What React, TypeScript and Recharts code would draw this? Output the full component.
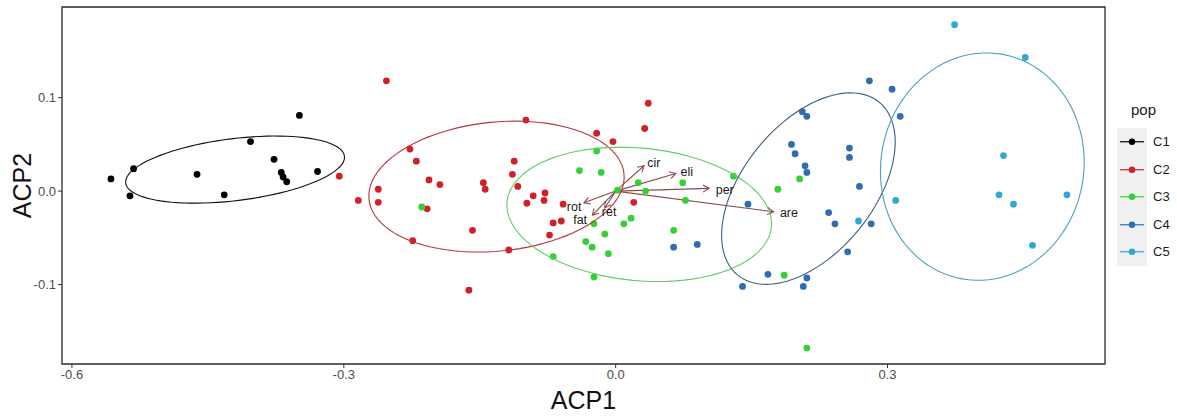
import {
  Label,
  ReferenceArea,
  ReferenceLine,
  Scatter,
  ScatterChart,
  XAxis,
  YAxis,
} from "recharts";

// axes
const X_DOMAIN: [number, number] = [-0.611, 0.54];
const Y_DOMAIN: [number, number] = [-0.185, 0.197];
const X_TICKS = [-0.6, -0.3, 0, 0.3];
const Y_TICKS = [-0.1, 0, 0.1];

// individuals, per population (ACP1 / ACP2 scores)
const C1_X = [-0.557, -0.532, -0.536, -0.462, -0.432, -0.403, -0.377, -0.369, -0.367, -0.363, -0.349, -0.329];
const C1_Y = [0.013, 0.024, -0.005, 0.018, -0.004, 0.053, 0.034, 0.02, 0.015, 0.01, 0.081, 0.021];

const C2_X = [-0.253, -0.305, -0.284, -0.262, -0.262, -0.227, -0.22, -0.206, -0.194, -0.208, -0.224, -0.158, -0.146, -0.144, -0.162, -0.118, -0.112, -0.114, -0.108, -0.099, -0.091, -0.098, -0.078, -0.079, -0.058, -0.069, -0.06, -0.073, -0.021, -0.003, 0.036, 0.032, 0.02];
const C2_Y = [0.118, 0.016, -0.01, 0.002, -0.012, 0.045, 0.032, 0.012, 0.007, -0.019, -0.053, -0.042, 0.009, 0.002, -0.106, -0.063, 0.032, 0.018, 0.005, 0.076, -0.005, -0.013, -0.002, -0.01, -0.014, -0.034, -0.032, -0.047, 0.062, 0.053, 0.094, 0.067, -0.012];

const C3_X = [-0.021, -0.04, -0.016, 0.025, 0.033, 0.002, 0.074, 0.077, 0.13, 0.179, 0.017, 0.009, -0.012, -0.024, -0.033, -0.026, -0.008, 0.064, -0.069, -0.024, 0.186, -0.214, 0.203, 0.211];
const C3_Y = [0.043, 0.022, 0.02, 0.009, 0.0, 0.001, 0.009, -0.01, 0.016, 0.002, -0.029, -0.035, -0.046, -0.035, -0.054, -0.06, -0.067, -0.042, -0.07, -0.092, -0.09, -0.017, 0.013, -0.168];

const C4_X = [0.28, 0.305, 0.206, 0.211, 0.314, 0.194, 0.198, 0.258, 0.258, 0.209, 0.211, 0.269, 0.146, 0.235, 0.242, 0.282, 0.09, 0.256, 0.168, 0.211, 0.207, 0.14, 0.064];
const C4_Y = [0.118, 0.109, 0.085, 0.08, 0.08, 0.05, 0.04, 0.046, 0.036, 0.027, 0.02, 0.005, -0.014, -0.023, -0.035, -0.035, -0.057, -0.065, -0.089, -0.093, -0.102, -0.102, -0.06];

const C5_X = [0.374, 0.452, 0.428, 0.423, 0.439, 0.498, 0.309, 0.46, 0.268];
const C5_Y = [0.178, 0.143, 0.038, -0.004, -0.014, -0.004, -0.01, -0.058, -0.032];

const GROUPS = ["C1", "C2", "C3", "C4", "C5"];
const GROUP_X = [C1_X, C2_X, C3_X, C4_X, C5_X];
const GROUP_Y = [C1_Y, C2_Y, C3_Y, C4_Y, C5_Y];
const POINT_COLORS = ["#000000", "#d0212a", "#33d133", "#2f6db0", "#34a7cf"];
const ELLIPSE_COLORS = ["#111111", "#b8343a", "#5fcf5f", "#3b5d86", "#4a9fbf"];

// confidence ellipses: centre and the two semi-axis vectors
const ELLIPSE_CX = [-0.42, -0.1315, 0.026, 0.2127, 0.4046];
const ELLIPSE_CY = [0.023, 0.0048, -0.0249, 0.0027, 0.0262];
const ELLIPSE_UX = [0.1207, 0.1407, 0.1459, 0.078, 0.0223];
const ELLIPSE_UY = [0.0144, 0.0136, -0.0134, 0.0926, 0.1201];
const ELLIPSE_VX = [-0.0042, -0.0071, 0.0069, -0.0556, -0.1102];
const ELLIPSE_VY = [0.0329, 0.0687, 0.0706, 0.0439, 0.0192];

// variable loadings (arrows) and where their names sit
const VARS = ["cir", "eli", "per", "are", "rot", "fat", "ret"];
const VAR_X = [0.0313, 0.0663, 0.1031, 0.1742, -0.035, -0.0257, -0.012];
const VAR_Y = [0.0271, 0.0189, 0.0029, -0.0221, -0.0125, -0.0257, -0.018];
const VAR_LABEL_X = [0.042, 0.0785, 0.1204, 0.1912, -0.0459, -0.0392, -0.0072];
const VAR_LABEL_Y = [0.0299, 0.0203, 0.0011, -0.0235, -0.0172, -0.031, -0.0219];

const FONT = '"Liberation Sans", Arial, sans-serif';
const ARROW_COLOR = "#8a4a4a";

const ellipsePath = (i: number) => {
  const pts = [];
  for (let k = 0; k <= 96; k++) {
    const t = (k / 96) * Math.PI * 2;
    pts.push({
      x: ELLIPSE_CX[i] + ELLIPSE_UX[i] * Math.cos(t) + ELLIPSE_VX[i] * Math.sin(t),
      y: ELLIPSE_CY[i] + ELLIPSE_UY[i] * Math.cos(t) + ELLIPSE_VY[i] * Math.sin(t),
    });
  }
  return pts;
};

const arrowShape = (props: any) => {
  const { x1, y1, x2, y2 } = props;
  if (x1 == null || x2 == null) return <g />;
  const ang = Math.atan2(y2 - y1, x2 - x1);
  const len = 7;
  const a1 = ang + Math.PI - Math.PI / 6;
  const a2 = ang + Math.PI + Math.PI / 6;
  const head = `${x2 + len * Math.cos(a1)},${y2 + len * Math.sin(a1)} ${x2},${y2} ${x2 + len * Math.cos(a2)},${y2 + len * Math.sin(a2)}`;
  return (
    <g>
      <line x1={x1} y1={y1} x2={x2} y2={y2} stroke={ARROW_COLOR} strokeWidth={1.1} />
      <polyline points={head} fill="none" stroke={ARROW_COLOR} strokeWidth={1.1} />
    </g>
  );
};

export default function App() {
  const varLabels = VARS.map((name, i) => ({ x: VAR_LABEL_X[i], y: VAR_LABEL_Y[i], name }));

  return (
    <div style={{ position: "relative", width: 1177, height: 416, background: "#fff", fontFamily: FONT }}>
      <style>{`body{margin:0}`}</style>
      <ScatterChart width={1177} height={416} margin={{ top: 7, right: 72, bottom: 0, left: 0 }}>
        <XAxis
          type="number"
          dataKey="x"
          domain={X_DOMAIN}
          ticks={X_TICKS}
          allowDataOverflow
          height={52}
          tickFormatter={(v: number) => v.toFixed(1)}
          tick={{ fill: "#4d4d4d", fontSize: 13, fontFamily: FONT }}
          tickLine={{ stroke: "#333" }}
          tickSize={4}
          axisLine={false}
        >
          <Label value="ACP1" position="insideBottom" offset={7} style={{ fontSize: 25, fill: "#111", fontFamily: FONT }} />
        </XAxis>
        <YAxis
          type="number"
          dataKey="y"
          domain={Y_DOMAIN}
          ticks={Y_TICKS}
          allowDataOverflow
          width={62}
          tickFormatter={(v: number) => v.toFixed(1)}
          tick={{ fill: "#4d4d4d", fontSize: 13, fontFamily: FONT }}
          tickLine={{ stroke: "#333" }}
          tickSize={4}
          axisLine={false}
        >
          <Label
            content={(p: any) => {
              const vb = p.viewBox || {};
              const cx = 22;
              const cy = (vb.y ?? 7) + (vb.height ?? 357) / 2;
              return (
                <text
                  x={cx}
                  y={cy}
                  transform={`rotate(-90 ${cx} ${cy})`}
                  textAnchor="middle"
                  dominantBaseline="central"
                  style={{ fontSize: 25, fill: "#111", fontFamily: FONT }}
                >
                  ACP2
                </text>
              );
            }}
          />
        </YAxis>

        {GROUPS.map((g, i) => (
          <Scatter
            key={g}
            name={g}
            data={GROUP_X[i].map((x, k) => ({ x, y: GROUP_Y[i][k] }))}
            isAnimationActive={false}
            shape={(p: any) => <circle cx={p.cx} cy={p.cy} r={3.4} fill={POINT_COLORS[i]} />}
          />
        ))}

        {GROUPS.map((g, i) => (
          <Scatter
            key={"ell-" + g}
            data={ellipsePath(i)}
            isAnimationActive={false}
            line={{ stroke: ELLIPSE_COLORS[i], strokeWidth: 1.1 }}
            lineType="joint"
            shape={() => <g />}
          />
        ))}

        {VARS.map((v, i) => (
          <ReferenceLine
            key={v}
            segment={[
              { x: 0, y: 0 },
              { x: VAR_X[i], y: VAR_Y[i] },
            ]}
            shape={arrowShape}
            ifOverflow="visible"
          />
        ))}

        <Scatter
          data={varLabels}
          isAnimationActive={false}
          shape={(p: any) => (
            <text
              x={p.cx}
              y={p.cy}
              textAnchor="middle"
              dominantBaseline="central"
              style={{ fontSize: 12.5, fill: "#1a1a1a", fontFamily: FONT }}
            >
              {p.payload.name}
            </text>
          )}
        />

        <ReferenceArea
          x1={X_DOMAIN[0]}
          x2={X_DOMAIN[1]}
          y1={Y_DOMAIN[0]}
          y2={Y_DOMAIN[1]}
          fill="none"
          stroke="#2b2b2b"
          strokeWidth={1.3}
          ifOverflow="visible"
        />
      </ScatterChart>

      {/* legend */}
      <div style={{ position: "absolute", left: 1117, top: 100, width: 60, fontSize: 13, color: "#1a1a1a" }}>
        <div style={{ fontSize: 15, height: 28, lineHeight: "20px", paddingLeft: 14 }}>pop</div>
        {GROUPS.map((g, i) => (
          <div key={g} style={{ display: "flex", alignItems: "center", height: 27.5 }}>
            <svg width={30} height={27.5} style={{ background: "#f0f0f0", display: "block" }}>
              <line x1={3} y1={13.75} x2={27} y2={13.75} stroke={POINT_COLORS[i]} strokeWidth={1.2} />
              <circle cx={15} cy={13.75} r={3.2} fill={POINT_COLORS[i]} />
            </svg>
            <span style={{ marginLeft: 6 }}>{g}</span>
          </div>
        ))}
      </div>
    </div>
  );
}
